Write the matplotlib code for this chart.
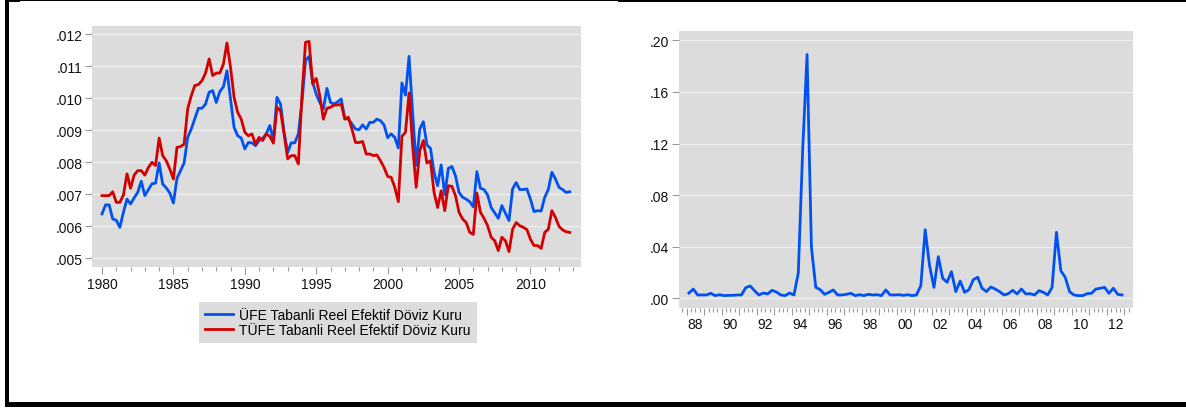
import numpy as np
import matplotlib
matplotlib.use("Agg")
import matplotlib.pyplot as plt
from matplotlib.patches import Rectangle
from matplotlib.ticker import FixedLocator, FixedFormatter, MultipleLocator

plt.rcParams['font.family'] = ['Liberation Sans', 'DejaVu Sans']

# Quarterly real effective exchange rate series, 1980Q1-2012Q4 (values in units of 1e-3)
start_left = 1980
ufe = [
    6.38, 6.66, 6.66, 6.22,   6.18, 5.96, 6.43, 6.84,   6.69, 6.88, 7.05, 7.40,
    6.95, 7.14, 7.32, 7.34,   7.97, 7.31, 7.19, 7.03,   6.72, 7.49, 7.73, 7.97,
    8.77, 9.03, 9.36, 9.68,   9.68, 9.81, 10.18, 10.23, 9.86, 10.20, 10.35, 10.85,
    9.97, 9.08, 8.82, 8.75,   8.41, 8.61, 8.60, 8.51,   8.67, 8.74, 8.88, 9.14,
    8.67, 10.02, 9.81, 8.93,  8.30, 8.60, 8.60, 8.88,   9.86, 11.17, 11.30, 10.49,
    10.12, 9.86, 9.66, 10.30, 9.86, 9.81, 9.88, 9.97,   9.36, 9.34, 9.19, 9.03,
    9.01, 9.16, 9.03, 9.24,   9.24, 9.34, 9.29, 9.16,   8.76, 8.88, 8.77, 8.44,
    10.47, 10.09, 11.30, 9.55, 7.90, 9.03, 9.26, 8.53,  8.43, 7.68, 7.26, 7.91,
    6.97, 7.80, 7.86, 7.57,   7.05, 6.90, 6.84, 6.76,   6.60, 7.70, 7.18, 7.14,
    6.97, 6.58, 6.41, 6.24,   6.64, 6.40, 6.17, 7.16,   7.36, 7.14, 7.14, 7.16,
    6.84, 6.45, 6.48, 6.47,   6.90, 7.14, 7.68, 7.47,   7.21, 7.14, 7.05, 7.07,
]
tufe = [
    6.95, 6.95, 6.95, 7.07,   6.74, 6.74, 6.97, 7.63,   7.18, 7.59, 7.73, 7.73,
    7.59, 7.83, 7.99, 7.89,   8.75, 8.20, 8.04, 7.78,   7.47, 8.46, 8.48, 8.56,
    9.66, 10.07, 10.39, 10.42, 10.54, 10.78, 11.22, 10.70, 10.78, 10.78, 11.06, 11.72,
    10.96, 10.02, 9.55, 9.34, 8.93, 8.82, 8.88, 8.56,   8.77, 8.67, 8.88, 8.80,
    8.59, 9.71, 9.60, 8.88,   8.10, 8.20, 8.20, 7.94,   10.07, 11.74, 11.77, 10.44,
    10.61, 10.07, 9.34, 9.68, 9.71, 9.78, 9.78, 9.81,   9.34, 9.40, 9.03, 8.61,
    8.61, 8.64, 8.25, 8.25,   8.20, 8.22, 8.04, 7.83,   7.55, 7.52, 7.21, 6.76,
    8.80, 8.93, 10.16, 8.51,  7.21, 8.35, 8.67, 7.97,   8.04, 7.05, 6.58, 7.10,
    6.48, 7.26, 7.24, 6.95,   6.43, 6.22, 6.11, 5.80,   5.74, 7.03, 6.43, 6.24,
    6.01, 5.65, 5.54, 5.23,   5.65, 5.54, 5.20, 5.90,   6.11, 6.01, 5.96, 5.89,
    5.59, 5.39, 5.39, 5.30,   5.80, 5.90, 6.48, 6.27,   5.99, 5.88, 5.82, 5.80,
]
series_labels = ["ÜFE Tabanli Reel Efektif Döviz Kuru",
                 "TÜFE Tabanli Reel Efektif Döviz Kuru"]
left_yticks = [0.005, 0.006, 0.007, 0.008, 0.009, 0.010, 0.011, 0.012]
left_yticklabels = [".005", ".006", ".007", ".008", ".009", ".010", ".011", ".012"]
left_xticks = [1980, 1985, 1990, 1995, 2000, 2005, 2010]
left_xticklabels = ["1980", "1985", "1990", "1995", "2000", "2005", "2010"]

# Quarterly conditional variance, 1988Q1-2012Q4
start_right = 1988
variance = [
    0.0041, 0.0072, 0.0026, 0.0026,  0.0026, 0.0039, 0.0021, 0.0028,
    0.0021, 0.0023, 0.0023, 0.0026,  0.0026, 0.0083, 0.0096, 0.0059,
    0.0026, 0.0041, 0.0034, 0.0062,  0.0049, 0.0026, 0.0021, 0.0041,
    0.0026, 0.0196, 0.1150, 0.1890,  0.0395, 0.0085, 0.0067, 0.0031,
    0.0046, 0.0065, 0.0026, 0.0026,  0.0031, 0.0039, 0.0021, 0.0028,
    0.0021, 0.0031, 0.0026, 0.0028,  0.0021, 0.0065, 0.0026, 0.0026,
    0.0028, 0.0023, 0.0028, 0.0021,  0.0026, 0.0098, 0.0532, 0.0253,
    0.0085, 0.0323, 0.0155, 0.0124,  0.0207, 0.0052, 0.0134, 0.0047,
    0.0067, 0.0145, 0.0163, 0.0078,  0.0052, 0.0088, 0.0072, 0.0052,
    0.0026, 0.0036, 0.0062, 0.0034,  0.0072, 0.0034, 0.0036, 0.0026,
    0.0059, 0.0047, 0.0026, 0.0085,  0.0512, 0.0214, 0.0163, 0.0052,
    0.0026, 0.0021, 0.0021, 0.0036,  0.0039, 0.0072, 0.0078, 0.0085,
    0.0039, 0.0078, 0.0031, 0.0026,
]
right_yticks = [0.00, 0.04, 0.08, 0.12, 0.16, 0.20]
right_yticklabels = [".00", ".04", ".08", ".12", ".16", ".20"]
right_xtick_years = [1988, 1990, 1992, 1994, 1996, 1998, 2000,
                     2002, 2004, 2006, 2008, 2010, 2012]
right_xticklabels = ["88", "90", "92", "94", "96", "98", "00",
                     "02", "04", "06", "08", "10", "12"]

W, H = 1186, 410
BLUE = "#0052f0"
RED = "#d40000"
PANEL = "#dcdcdc"
GRID = "#f0f0f0"
TICK = "#9a9a9a"
FS = 10

fig = plt.figure(figsize=(W / 100, H / 100), dpi=100)
fig.patch.set_facecolor("white")


def px_axes(x0, y0, x1, y1):
    return fig.add_axes([x0 / W, 1 - y1 / H, (x1 - x0) / W, (y1 - y0) / H])


def style(ax):
    ax.set_facecolor(PANEL)
    for s in ax.spines.values():
        s.set_visible(False)
    ax.set_axisbelow(True)
    ax.yaxis.grid(True, color=GRID, lw=0.9)
    ax.tick_params(axis="y", length=5, width=0.8, color=TICK, pad=2,
                   labelsize=FS, labelcolor="#111111")
    ax.tick_params(axis="x", which="major", length=5, width=0.8, color=TICK,
                   pad=2, labelsize=FS, labelcolor="#111111")
    ax.tick_params(axis="x", which="minor", length=3, width=0.8, color=TICK)


# Left panel: two exchange rate indices
ax1 = px_axes(92, 27, 581, 268)
style(ax1)
x1 = start_left + np.arange(len(ufe)) / 4
ax1.plot(x1, np.array(ufe) * 1e-3, color=BLUE, lw=2.0, label=series_labels[0])
ax1.plot(x1, np.array(tufe) * 1e-3, color=RED, lw=2.0, label=series_labels[1])
ax1.set_xlim(1979.3, 2013.54)
ax1.set_ylim(0.00472, 0.01225)
ax1.yaxis.set_major_locator(FixedLocator(left_yticks))
ax1.yaxis.set_major_formatter(FixedFormatter(left_yticklabels))
ax1.xaxis.set_major_locator(FixedLocator(left_xticks))
ax1.xaxis.set_major_formatter(FixedFormatter(left_xticklabels))
ax1.xaxis.set_minor_locator(MultipleLocator(1))

leg = ax1.legend(loc="upper left", bbox_to_anchor=(199 / W, 1 - 303 / H),
                 bbox_transform=fig.transFigure, borderaxespad=0,
                 frameon=True, fancybox=False, facecolor=PANEL,
                 edgecolor=PANEL, framealpha=1, fontsize=FS,
                 handlelength=2.0, handletextpad=0.45, labelspacing=0.05,
                 borderpad=0.45)
leg.get_frame().set_linewidth(0)

# Right panel: conditional variance
ax2 = px_axes(678.5, 32, 1132.5, 309)
style(ax2)
x2 = start_right + np.arange(len(variance)) / 4 + 0.125
ax2.plot(x2, variance, color=BLUE, lw=2.0)
ax2.set_xlim(1987.53, 2013.47)
ax2.set_ylim(-0.0075, 0.2072)
ax2.yaxis.set_major_locator(FixedLocator(right_yticks))
ax2.yaxis.set_major_formatter(FixedFormatter(right_yticklabels))
# year boundaries carry the long ticks, labels sit in the middle of each year
ax2.xaxis.set_major_locator(FixedLocator(np.arange(1988, 2014)))
ax2.xaxis.set_major_formatter(FixedFormatter([""] * 26))
ax2.xaxis.set_minor_locator(MultipleLocator(0.25))
for yr, lab in zip(right_xtick_years, right_xticklabels):
    ax2.text(yr + 0.5, -9 / 277, lab, transform=ax2.get_xaxis_transform(),
             ha="center", va="top", fontsize=FS, color="#111111")


# Black frame pieces around the figure
def px_rect(x0, y0, x1, y1):
    fig.add_artist(Rectangle((x0 / W, 1 - y1 / H), (x1 - x0) / W, (y1 - y0) / H,
                             transform=fig.transFigure, facecolor="black",
                             edgecolor="none", zorder=10))


px_rect(5, 0, 9, 407)
px_rect(5, 403, W, 408)
px_rect(5, 0, 20, 3)
px_rect(20, 0, 618, 2)
px_rect(618, 0, W, 3)

fig.savefig("out.png", dpi=100)
